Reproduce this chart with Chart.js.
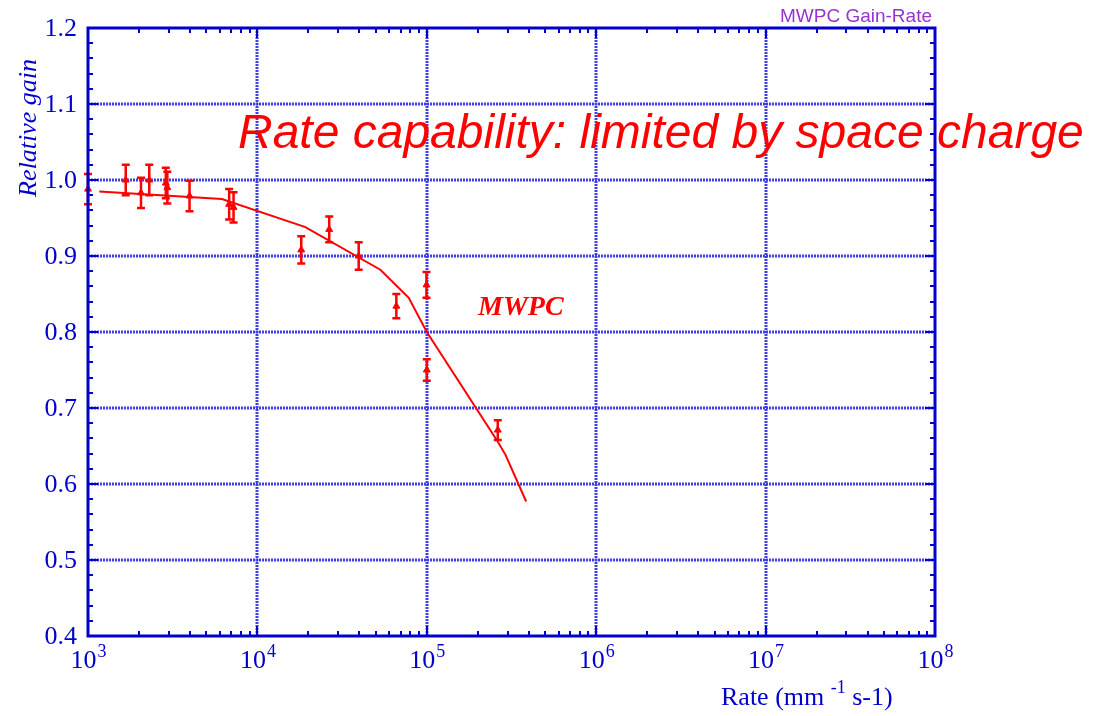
<!DOCTYPE html>
<html>
<head>
<meta charset="utf-8">
<script src="https://cdn.jsdelivr.net/npm/chart.js@4.4.1/dist/chart.umd.min.js"></script>
<style>
  html, body { margin: 0; padding: 0; background: #fff; }
  #wrap { width: 1111px; height: 716px; }
</style>
</head>
<body>
<div id="wrap"><canvas id="gainChart" width="1111" height="716"></canvas></div>
<script>
// measured points (rate in mm^-1 s^-1, relative gain, error)
var rates = [1000, 1670, 2055, 2300, 2880, 2940, 3975, 6810, 7230, 18150, 26540, 39630, 66100, 99600, 100000, 262400];
var gains = [0.988, 1.000, 0.983, 1.000, 0.996, 0.990, 0.979, 0.968, 0.964, 0.908, 0.935, 0.900, 0.834, 0.862, 0.750, 0.671];
var errs  = [0.020, 0.020, 0.020, 0.020, 0.020, 0.021, 0.020, 0.020, 0.020, 0.018, 0.017, 0.018, 0.016, 0.017, 0.014, 0.013];

// calculated curve
var fitRates = [1166, 6170, 19200, 53200, 78200, 100000, 262000, 292000, 386000];
var fitGains = [0.985, 0.975, 0.938, 0.882, 0.845, 0.800, 0.656, 0.638, 0.577];

var xDecades = [1e3, 1e4, 1e5, 1e6, 1e7, 1e8];
var xExponents = ['3', '4', '5', '6', '7', '8'];
var yTicks = [0.4, 0.5, 0.6, 0.7, 0.8, 0.9, 1.0, 1.1, 1.2];

var BLUE = '#0000cc';
var RED = '#ff0000';
var SERIF = '"Liberation Serif", "Times New Roman", serif';

function toXY(xs, ys) {
    var out = [];
    for (var i = 0; i < xs.length; i++) {
        out.push({ x: xs[i], y: ys[i] });
    }
    return out;
}

// grid, error bars, frame and ticks
var framePlugin = {
    id: 'frame',
    beforeDatasetsDraw: function (chart) {
        var ctx = chart.ctx, a = chart.chartArea;
        var xs = chart.scales.x, ys = chart.scales.y;
        ctx.save();
        ctx.strokeStyle = '#4040e0';
        ctx.lineWidth = 3;
        ctx.setLineDash([2, 1]);
        for (var i = 1; i < xDecades.length - 1; i++) {
            var px = Math.round(xs.getPixelForValue(xDecades[i]));
            ctx.beginPath(); ctx.moveTo(px, a.top); ctx.lineTo(px, a.bottom); ctx.stroke();
        }
        for (var j = 1; j < yTicks.length - 1; j++) {
            var py = Math.round(ys.getPixelForValue(yTicks[j]));
            ctx.beginPath(); ctx.moveTo(a.left, py); ctx.lineTo(a.right, py); ctx.stroke();
        }
        ctx.restore();

        // error bars (under the frame)
        ctx.save();
        ctx.strokeStyle = RED;
        ctx.lineWidth = 2.5;
        ctx.beginPath();
        for (var k = 0; k < rates.length; k++) {
            var ex = xs.getPixelForValue(rates[k]);
            var eTop = ys.getPixelForValue(gains[k] + errs[k]);
            var eBot = ys.getPixelForValue(gains[k] - errs[k]);
            ctx.moveTo(ex, eTop); ctx.lineTo(ex, eBot);
            ctx.moveTo(ex - 4, eTop); ctx.lineTo(ex + 4, eTop);
            ctx.moveTo(ex - 4, eBot); ctx.lineTo(ex + 4, eBot);
        }
        ctx.stroke();
        ctx.restore();
    },
    afterDatasetsDraw: function (chart) {
        var ctx = chart.ctx, a = chart.chartArea;
        var xs = chart.scales.x, ys = chart.scales.y;
        ctx.save();
        ctx.strokeStyle = BLUE;
        ctx.lineWidth = 3;
        ctx.strokeRect(a.left, a.top, a.right - a.left, a.bottom - a.top);

        ctx.lineWidth = 2;
        ctx.beginPath();
        // x ticks, bottom and top
        for (var d = 0; d < xDecades.length - 1; d++) {
            for (var m = 1; m < 10; m++) {
                var px = Math.round(xs.getPixelForValue(xDecades[d] * m));
                var len = (m === 1) ? 10 : 5;
                ctx.moveTo(px, a.bottom); ctx.lineTo(px, a.bottom - len);
                ctx.moveTo(px, a.top); ctx.lineTo(px, a.top + len);
            }
        }
        // y ticks, left and right (every 0.02)
        for (var k = 0; k <= 40; k++) {
            var v = 0.4 + k * 0.02;
            var py = Math.round(ys.getPixelForValue(v));
            var ylen = (k % 5 === 0) ? 10 : 5;
            ctx.moveTo(a.left, py); ctx.lineTo(a.left + ylen, py);
            ctx.moveTo(a.right, py); ctx.lineTo(a.right - ylen, py);
        }
        ctx.stroke();
        ctx.restore();
    },
    afterDraw: function (chart) {
        var ctx = chart.ctx;
        var xs = chart.scales.x, ys = chart.scales.y;
        ctx.save();
        ctx.fillStyle = BLUE;

        // y tick labels
        ctx.font = '26px ' + SERIF;
        ctx.textAlign = 'right';
        ctx.textBaseline = 'middle';
        for (var j = 0; j < yTicks.length; j++) {
            ctx.fillText(yTicks[j].toFixed(1), 77, ys.getPixelForValue(yTicks[j]) + 1);
        }

        // x tick labels 10^n
        ctx.textBaseline = 'alphabetic';
        ctx.textAlign = 'left';
        for (var i = 0; i < xDecades.length; i++) {
            var px = xs.getPixelForValue(xDecades[i]);
            ctx.font = '26px ' + SERIF;
            var w10 = ctx.measureText('10').width;
            ctx.font = '18px ' + SERIF;
            var wExp = ctx.measureText(xExponents[i]).width;
            var left = px - (w10 + wExp) / 2;
            ctx.font = '26px ' + SERIF;
            ctx.fillText('10', left, 668);
            ctx.font = '18px ' + SERIF;
            ctx.fillText(xExponents[i], left + w10 + 1, 657);
        }

        // x axis title
        ctx.font = '26px ' + SERIF;
        var t1 = 'Rate (mm ';
        ctx.fillText(t1, 721, 705);
        var x2 = 721 + ctx.measureText(t1).width;
        ctx.font = '18px ' + SERIF;
        ctx.fillText('-1', x2, 693);
        var x3 = x2 + ctx.measureText('-1').width;
        ctx.font = '26px ' + SERIF;
        ctx.fillText(' s-1)', x3, 705);

        // y axis title
        ctx.save();
        ctx.translate(36, 128);
        ctx.rotate(-Math.PI / 2);
        ctx.textAlign = 'center';
        ctx.font = 'italic 26px ' + SERIF;
        ctx.fillText('Relative gain', 0, 0);
        ctx.restore();

        // corner label
        ctx.fillStyle = '#9933cc';
        ctx.textAlign = 'right';
        ctx.font = '19px "Liberation Sans", Arial, sans-serif';
        ctx.fillText('MWPC Gain-Rate', 932, 22);

        // annotations
        ctx.fillStyle = RED;
        ctx.textAlign = 'left';
        ctx.font = 'italic 48px "Liberation Sans", Arial, sans-serif';
        ctx.fillText('Rate capability: limited by space charge', 238, 148);
        ctx.font = 'italic bold 28px ' + SERIF;
        ctx.fillText('MWPC', 478, 315);
        ctx.restore();
    }
};

var ctx = document.getElementById('gainChart').getContext('2d');
new Chart(ctx, {
    type: 'scatter',
    data: {
        datasets: [{
            data: toXY(fitRates, fitGains),
            showLine: true,
            borderColor: RED,
            borderWidth: 2,
            pointRadius: 0,
            tension: 0,
            fill: false
        }, {
            data: toXY(rates, gains),
            pointStyle: 'triangle',
            pointRadius: 4,
            backgroundColor: RED,
            borderColor: RED,
            borderWidth: 1,
            clip: false
        }]
    },
    plugins: [framePlugin],
    options: {
        responsive: false,
        animation: false,
        layout: { padding: { left: 0, top: 28, right: 176, bottom: 80 } },
        scales: {
            x: {
                type: 'logarithmic',
                min: 1000,
                max: 1e8,
                grid: { display: false },
                border: { display: false },
                ticks: { display: false },
                afterFit: function (s) { s.height = 0; }
            },
            y: {
                min: 0.4,
                max: 1.2,
                grid: { display: false },
                border: { display: false },
                ticks: { display: false },
                afterFit: function (s) { s.width = 88; }
            }
        },
        plugins: {
            legend: { display: false },
            tooltip: { enabled: false }
        }
    }
});
</script>
</body>
</html>
